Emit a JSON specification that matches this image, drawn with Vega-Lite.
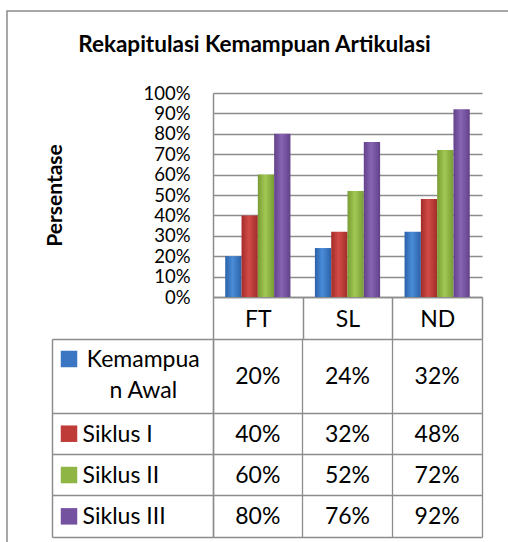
{
  "$schema": "https://vega.github.io/schema/vega-lite/v6.json",
  "autosize": "none",
  "padding": {"left": 7, "top": 11, "right": 0, "bottom": 0},
  "width": 501,
  "height": 531,
  "background": "white",
  "config": {
    "font": "Lato",
    "view": {"stroke": "#8c8c8c", "strokeWidth": 1.5, "strokeDash": [501, 1032, 531]},
    "axis": {"gridColor": "#8c8c8c", "domainColor": "#8c8c8c", "tickColor": "#8c8c8c", "gridWidth": 1.3, "domainWidth": 1.5, "tickWidth": 1.5, "gridOpacity": 1, "labelColor": "black", "titleColor": "black", "labelFont": "Lato", "titleFont": "Lato"}
  },
  "title": {"text": "Rekapitulasi Kemampuan Artikulasi", "fontSize": 22.5, "fontWeight": "bold", "font": "Lato", "anchor": "middle", "frame": "group", "baseline": "alphabetic", "offset": -63, "dx": -3, "color": "black"},
  "datasets": {
    "scores": [
      {"kategori": "FT", "siklus": "Kemampuan Awal", "nilai": 0.20},
      {"kategori": "FT", "siklus": "Siklus I", "nilai": 0.40},
      {"kategori": "FT", "siklus": "Siklus II", "nilai": 0.60},
      {"kategori": "FT", "siklus": "Siklus III", "nilai": 0.80},
      {"kategori": "SL", "siklus": "Kemampuan Awal", "nilai": 0.24},
      {"kategori": "SL", "siklus": "Siklus I", "nilai": 0.32},
      {"kategori": "SL", "siklus": "Siklus II", "nilai": 0.52},
      {"kategori": "SL", "siklus": "Siklus III", "nilai": 0.76},
      {"kategori": "ND", "siklus": "Kemampuan Awal", "nilai": 0.32},
      {"kategori": "ND", "siklus": "Siklus I", "nilai": 0.48},
      {"kategori": "ND", "siklus": "Siklus II", "nilai": 0.72},
      {"kategori": "ND", "siklus": "Siklus III", "nilai": 0.92}
    ],
    "rows": [
      {"siklus": "Kemampuan Awal", "label": ["Kemampua", "n Awal"]},
      {"siklus": "Siklus I", "label": "Siklus I"},
      {"siklus": "Siklus II", "label": "Siklus II"},
      {"siklus": "Siklus III", "label": "Siklus III"}
    ]
  },
  "resolve": {"scale": {"x": "independent", "y": "independent"}, "axis": {"x": "independent", "y": "independent"}},
  "layer": [
    {
      "data": {"name": "scores"},
      "encoding": {
        "x": {"field": "kategori", "type": "nominal", "sort": ["FT", "SL", "ND"],
          "scale": {"type": "band", "domain": ["FT", "SL", "ND"], "range": [206, 475], "paddingInner": 0, "paddingOuter": 0},
          "axis": {"orient": "bottom", "offset": -245, "title": null, "labelAngle": 0, "tickBand": "extent", "tickSize": 42, "labelPadding": -13, "labelBaseline": "alphabetic", "labelFontSize": 23, "domain": true, "grid": false, "ticks": true}},
        "xOffset": {"field": "siklus", "type": "nominal", "sort": ["Kemampuan Awal", "Siklus I", "Siklus II", "Siklus III"],
          "scale": {"domain": ["Kemampuan Awal", "Siklus I", "Siklus II", "Siklus III"], "paddingInner": 0, "paddingOuter": 0.75}},
        "y": {"field": "nilai", "type": "quantitative",
          "scale": {"domain": [0, 1], "range": [286, 82], "nice": false},
          "axis": {"orient": "left", "offset": -206, "values": [0, 0.1, 0.2, 0.3, 0.4, 0.5, 0.6, 0.7, 0.8, 0.9, 1], "format": ".0%", "grid": true, "ticks": false, "domain": true, "labelPadding": 23, "labelFontSize": 18.5, "title": "Persentase", "titleFontSize": 21, "titleFontWeight": "bold", "titlePadding": 77}}
      },
      "layer": [
        {
          "transform": [{"filter": "datum.siklus === 'Kemampuan Awal'"}],
          "mark": {"type": "bar", "color": {"gradient": "linear", "x1": 0, "x2": 1, "y1": 0, "y2": 0, "stops": [{"offset": 0, "color": "#2b61a8"}, {"offset": 0.45, "color": "#4a8cd8"}, {"offset": 1, "color": "#2b61a8"}]}}
        },
        {
          "transform": [{"filter": "datum.siklus === 'Siklus I'"}],
          "mark": {"type": "bar", "color": {"gradient": "linear", "x1": 0, "x2": 1, "y1": 0, "y2": 0, "stops": [{"offset": 0, "color": "#a22c29"}, {"offset": 0.45, "color": "#d24c48"}, {"offset": 1, "color": "#a22c29"}]}}
        },
        {
          "transform": [{"filter": "datum.siklus === 'Siklus II'"}],
          "mark": {"type": "bar", "color": {"gradient": "linear", "x1": 0, "x2": 1, "y1": 0, "y2": 0, "stops": [{"offset": 0, "color": "#789c33"}, {"offset": 0.45, "color": "#a2c854"}, {"offset": 1, "color": "#789c33"}]}}
        },
        {
          "transform": [{"filter": "datum.siklus === 'Siklus III'"}],
          "mark": {"type": "bar", "color": {"gradient": "linear", "x1": 0, "x2": 1, "y1": 0, "y2": 0, "stops": [{"offset": 0, "color": "#62418a"}, {"offset": 0.45, "color": "#8864b3"}, {"offset": 1, "color": "#62418a"}]}}
        }
      ]
    },
    {
      "data": {"name": "scores"},
      "layer": [
        {
          "transform": [{"filter": "datum.siklus === 'Kemampuan Awal'"}],
          "mark": {"type": "text", "fontSize": 23, "baseline": "alphabetic", "align": "center", "color": "black"},
          "encoding": {
            "x": {"field": "kategori", "type": "nominal",
              "scale": {"type": "band", "domain": ["FT", "SL", "ND"], "range": [206, 475], "paddingInner": 0, "paddingOuter": 0},
              "axis": {"orient": "top", "offset": -328, "title": null, "labels": false, "ticks": false, "domain": true, "grid": true, "bandPosition": 1}},
            "y": {"field": "siklus", "type": "nominal", "bandPosition": 0.305,
              "scale": {"type": "band", "domain": ["Kemampuan Awal", "Siklus I", "Siklus II", "Siklus III"], "range": [328, 526], "paddingInner": 0, "paddingOuter": 0.396, "align": 1},
              "axis": {"orient": "left", "offset": -206, "title": null, "labels": false, "ticks": false, "domain": true, "grid": true, "bandPosition": 1}},
            "text": {"field": "nilai", "type": "quantitative", "format": ".0%"}
          }
        },
        {
          "transform": [{"filter": "datum.siklus !== 'Kemampuan Awal'"}],
          "mark": {"type": "text", "fontSize": 23, "baseline": "alphabetic", "align": "center", "color": "black"},
          "encoding": {
            "x": {"field": "kategori", "type": "nominal",
              "scale": {"type": "band", "domain": ["FT", "SL", "ND"], "range": [206, 475], "paddingInner": 0, "paddingOuter": 0},
              "axis": {"orient": "top", "offset": -328, "title": null, "labels": false, "ticks": false, "domain": true, "grid": true, "bandPosition": 1}},
            "y": {"field": "siklus", "type": "nominal", "bandPosition": 0.69,
              "scale": {"type": "band", "domain": ["Kemampuan Awal", "Siklus I", "Siklus II", "Siklus III"], "range": [328, 526], "paddingInner": 0, "paddingOuter": 0.396, "align": 1},
              "axis": {"orient": "left", "offset": -206, "title": null, "labels": false, "ticks": false, "domain": true, "grid": true, "bandPosition": 1}},
            "text": {"field": "nilai", "type": "quantitative", "format": ".0%"}
          }
        }
      ]
    },
    {
      "data": {"name": "rows"},
      "layer": [
        {
          "transform": [{"filter": "datum.siklus === 'Kemampuan Awal'"}],
          "mark": {"type": "point", "shape": "square", "filled": true, "opacity": 1, "size": 272},
          "encoding": {
            "x": {"datum": "label", "type": "nominal", "bandPosition": 0.1056,
              "scale": {"type": "band", "domain": ["label"], "range": [45, 206], "paddingInner": 0, "paddingOuter": 0},
              "axis": {"orient": "top", "offset": -328, "title": null, "labels": false, "ticks": false, "domain": true, "grid": true, "bandPosition": 1}},
            "y": {"field": "siklus", "type": "nominal", "bandPosition": -0.308,
              "scale": {"type": "band", "domain": ["Kemampuan Awal", "Siklus I", "Siklus II", "Siklus III"], "range": [328, 526], "paddingInner": 0, "paddingOuter": 0.396, "align": 1},
              "axis": {"orient": "left", "offset": -45, "title": null, "labels": false, "ticks": false, "domain": true, "grid": true, "bandPosition": 1}},
            "color": {"field": "siklus", "type": "nominal",
              "scale": {"domain": ["Kemampuan Awal", "Siklus I", "Siklus II", "Siklus III"], "range": ["#3a76c2", "#bf3b37", "#8fb645", "#7552a0"]},
              "legend": null}
          }
        },
        {
          "transform": [{"filter": "datum.siklus !== 'Kemampuan Awal'"}],
          "mark": {"type": "point", "shape": "square", "filled": true, "opacity": 1, "size": 272},
          "encoding": {
            "x": {"datum": "label", "type": "nominal", "bandPosition": 0.1056,
              "scale": {"type": "band", "domain": ["label"], "range": [45, 206], "paddingInner": 0, "paddingOuter": 0},
              "axis": {"orient": "top", "offset": -328, "title": null, "labels": false, "ticks": false, "domain": true, "grid": true, "bandPosition": 1}},
            "y": {"field": "siklus", "type": "nominal", "bandPosition": 0.5,
              "scale": {"type": "band", "domain": ["Kemampuan Awal", "Siklus I", "Siklus II", "Siklus III"], "range": [328, 526], "paddingInner": 0, "paddingOuter": 0.396, "align": 1},
              "axis": {"orient": "left", "offset": -45, "title": null, "labels": false, "ticks": false, "domain": true, "grid": true, "bandPosition": 1}},
            "color": {"field": "siklus", "type": "nominal",
              "scale": {"domain": ["Kemampuan Awal", "Siklus I", "Siklus II", "Siklus III"], "range": ["#3a76c2", "#bf3b37", "#8fb645", "#7552a0"]},
              "legend": null}
          }
        },
        {
          "transform": [{"filter": "datum.siklus === 'Kemampuan Awal'"}],
          "mark": {"type": "text", "fontSize": 23, "baseline": "alphabetic", "align": "center", "lineHeight": 31.6, "color": "black"},
          "encoding": {
            "x": {"datum": "label", "type": "nominal", "bandPosition": 0.567,
              "scale": {"type": "band", "domain": ["label"], "range": [45, 206], "paddingInner": 0, "paddingOuter": 0},
              "axis": {"orient": "top", "offset": -328, "title": null, "labels": false, "ticks": false, "domain": true, "grid": true, "bandPosition": 1}},
            "y": {"field": "siklus", "type": "nominal", "bandPosition": -0.12,
              "scale": {"type": "band", "domain": ["Kemampuan Awal", "Siklus I", "Siklus II", "Siklus III"], "range": [328, 526], "paddingInner": 0, "paddingOuter": 0.396, "align": 1},
              "axis": {"orient": "left", "offset": -45, "title": null, "labels": false, "ticks": false, "domain": true, "grid": true, "bandPosition": 1}},
            "text": {"field": "label", "type": "nominal"}
          }
        },
        {
          "transform": [{"filter": "datum.siklus !== 'Kemampuan Awal'"}],
          "mark": {"type": "text", "fontSize": 23, "baseline": "alphabetic", "align": "left", "color": "black"},
          "encoding": {
            "x": {"datum": "label", "type": "nominal", "bandPosition": 0.19,
              "scale": {"type": "band", "domain": ["label"], "range": [45, 206], "paddingInner": 0, "paddingOuter": 0},
              "axis": {"orient": "top", "offset": -328, "title": null, "labels": false, "ticks": false, "domain": true, "grid": true, "bandPosition": 1}},
            "y": {"field": "siklus", "type": "nominal", "bandPosition": 0.69,
              "scale": {"type": "band", "domain": ["Kemampuan Awal", "Siklus I", "Siklus II", "Siklus III"], "range": [328, 526], "paddingInner": 0, "paddingOuter": 0.396, "align": 1},
              "axis": {"orient": "left", "offset": -45, "title": null, "labels": false, "ticks": false, "domain": true, "grid": true, "bandPosition": 1}},
            "text": {"field": "label", "type": "nominal"}
          }
        }
      ]
    }
  ]
}
